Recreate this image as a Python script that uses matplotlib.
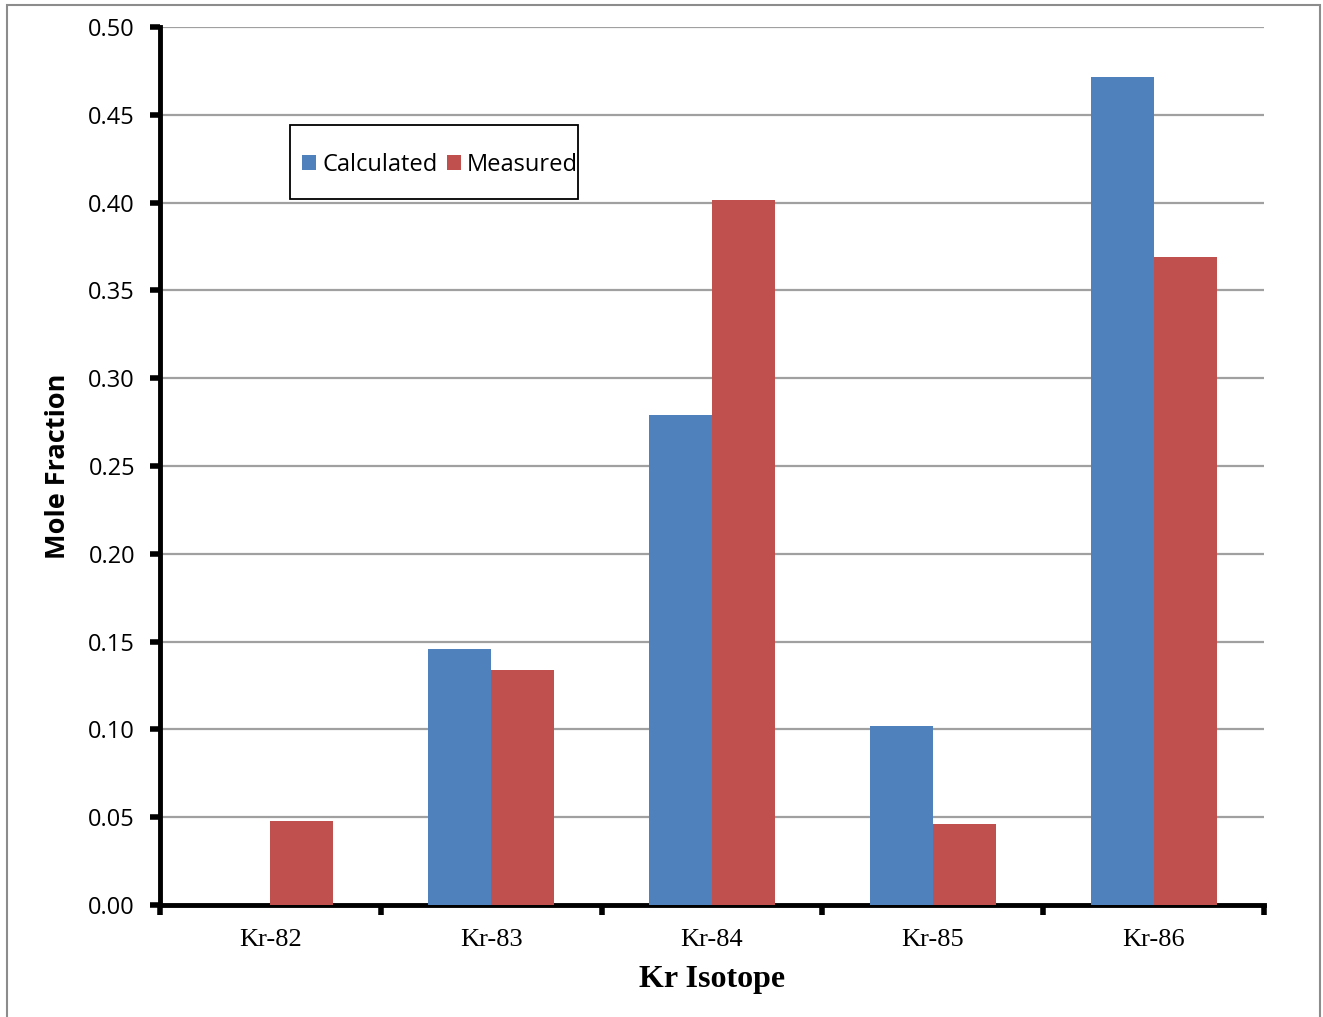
import numpy as np
import matplotlib.pyplot as plt
from matplotlib.patches import Rectangle

# data
isotopes = ['Kr-82', 'Kr-83', 'Kr-84', 'Kr-85', 'Kr-86']
calculated = [0.0, 0.146, 0.279, 0.102, 0.4715]
measured = [0.048, 0.134, 0.4015, 0.046, 0.369]
yticks = [0.00, 0.05, 0.10, 0.15, 0.20, 0.25, 0.30, 0.35, 0.40, 0.45, 0.50]

blue = '#4F81BD'
red = '#C0504D'
sans = ['Open Sans', 'DejaVu Sans']
serif = ['Liberation Serif', 'DejaVu Serif']

fig = plt.figure(figsize=(13.23, 10.17), dpi=100)
# grey frame around the whole chart area
fig.patches.append(Rectangle((7/1323, -0.01), (1320-7)/1323, 1.0 - 5/1017 + 0.01,
                             transform=fig.transFigure, fill=False,
                             edgecolor='#8c8c8c', linewidth=1.5))

ax = fig.add_axes([160/1323, 112/1017, 1104/1323, 878/1017])

x = np.arange(len(isotopes))
w = 0.285
ax.bar(x - w/2, calculated, w, color=blue, label='Calculated', zorder=3)
ax.bar(x + w/2, measured, w, color=red, label='Measured', zorder=3)

ax.set_xlim(-0.5, len(isotopes) - 0.5)
ax.set_ylim(0, 0.5)

ax.set_yticks(yticks)
ax.set_yticklabels(['%.2f' % v for v in yticks], family=sans, fontsize=17)
ax.yaxis.grid(True, color='#a0a0a0', linewidth=1.6, zorder=0)
ax.set_axisbelow(True)

# category labels in the middle, ticks on the boundaries
ax.set_xticks(x)
ax.set_xticklabels(isotopes, family=serif, fontsize=19)
ax.tick_params(axis='x', which='major', length=0, pad=17)
ax.set_xticks(np.arange(-0.5, len(isotopes)), minor=True)
ax.tick_params(axis='x', which='minor', length=7, width=4, direction='out')
ax.tick_params(axis='y', length=7, width=4, direction='out', pad=11)

for s in ['top', 'right']:
    ax.spines[s].set_visible(False)
for s in ['left', 'bottom']:
    ax.spines[s].set_linewidth(3.5)

ax.set_xlabel('Kr Isotope', family=serif, fontsize=23, fontweight='bold', labelpad=10)
ax.set_ylabel('Mole Fraction', family=sans, fontsize=19.5, fontweight='bold', labelpad=12)

# legend box drawn separately (text nearly touches its right edge)
ax.add_patch(Rectangle((130/1104, 706/878), 288/1104, 74/878, transform=ax.transAxes,
                       fill=True, facecolor='white', edgecolor='black',
                       linewidth=1.3, zorder=5))
leg = ax.legend(loc='center left', bbox_to_anchor=(142/1104, 740/878), ncol=2,
                prop={'family': sans, 'size': 17}, frameon=False,
                handlelength=0.6, handleheight=0.6, handletextpad=0.25,
                columnspacing=0.4, borderpad=0, borderaxespad=0)
leg.set_zorder(6)

fig.savefig('out.png', dpi=100)
